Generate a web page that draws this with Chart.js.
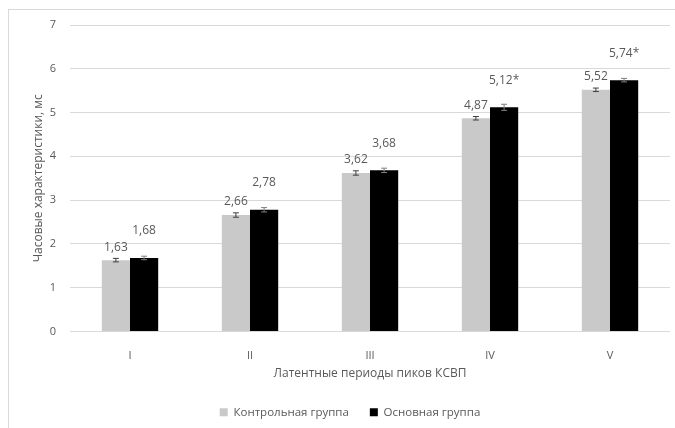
<!DOCTYPE html>
<html>
<head>
<meta charset="utf-8">
<script src="https://cdn.jsdelivr.net/npm/chart.js@4/dist/chart.umd.min.js"></script>
<style>
    body { margin: 0; background: #fff; }
    #frame { position: absolute; left: 8px; top: 9px; width: 700px; height: 430px;
             border-left: 1px solid #d9d9d9; border-top: 1px solid #d9d9d9; }
    #wrap { position: absolute; left: 0; top: 0; width: 675px; height: 428px; }
</style>
</head>
<body>
<div id="frame"></div>
<div id="wrap"><canvas id="chart" width="675" height="428"></canvas></div>
<script>
// Data
const categories = ['I', 'II', 'III', 'IV', 'V'];
const controlValues = [1.63, 2.66, 3.62, 4.87, 5.52];
const mainValues = [1.68, 2.78, 3.68, 5.12, 5.74];
const controlErrors = [0.04, 0.05, 0.05, 0.04, 0.04];
const mainErrors = [0.04, 0.05, 0.05, 0.07, 0.04];
const controlMarks = ['', '', '', '', ''];
const mainMarks = ['', '', '', '*', '*'];
const yTicks = [0, 1, 2, 3, 4, 5, 6, 7];

const textColor = '#595959';
const fontFamily = '"Open Sans", sans-serif';

function fmt(v) {
    return v.toFixed(2).replace('.', ',');
}

// error bars (small I-shaped whiskers)
const errorBars = {
    id: 'errorBars',
    afterDatasetsDraw(chart) {
        const ctx = chart.ctx;
        const y = chart.scales.y;
        chart.data.datasets.forEach(function (ds, i) {
            const meta = chart.getDatasetMeta(i);
            meta.data.forEach(function (bar, j) {
                const v = ds.data[j];
                const e = ds.errors[j];
                const top = y.getPixelForValue(v + e);
                const bot = y.getPixelForValue(v - e);
                ctx.save();
                ctx.strokeStyle = i === 0 ? '#404040' : '#7f7f7f';
                ctx.lineWidth = 1;
                ctx.beginPath();
                ctx.moveTo(bar.x, top);
                ctx.lineTo(bar.x, bot);
                ctx.moveTo(bar.x - 3, top);
                ctx.lineTo(bar.x + 3, top);
                ctx.moveTo(bar.x - 3, bot);
                ctx.lineTo(bar.x + 3, bot);
                ctx.stroke();
                ctx.restore();
            });
        });
    }
};

// value labels above bars
const valueLabels = {
    id: 'valueLabels',
    afterDatasetsDraw(chart) {
        const ctx = chart.ctx;
        ctx.save();
        ctx.font = '12px ' + fontFamily;
        ctx.fillStyle = textColor;
        ctx.textAlign = 'center';
        ctx.textBaseline = 'middle';
        chart.data.datasets.forEach(function (ds, i) {
            const meta = chart.getDatasetMeta(i);
            const lift = i === 0 ? 13 : 27;
            meta.data.forEach(function (bar, j) {
                ctx.fillText(fmt(ds.data[j]) + ds.marks[j], bar.x, bar.y - lift);
            });
        });
        ctx.restore();
    }
};

const ctx = document.getElementById('chart').getContext('2d');
const chart = new Chart(ctx, {
    type: 'bar',
    data: {
        labels: categories,
        datasets: [
            {
                label: 'Контрольная группа',
                data: controlValues,
                errors: controlErrors,
                marks: controlMarks,
                backgroundColor: '#c9c9c9',
                borderColor: '#c9c9c9',
                borderWidth: 0
            },
            {
                label: 'Основная группа',
                data: mainValues,
                errors: mainErrors,
                marks: mainMarks,
                backgroundColor: '#000000',
                borderColor: '#000000',
                borderWidth: 0
            }
        ]
    },
    options: {
        responsive: false,
        animation: false,
        categoryPercentage: 0.47,
        barPercentage: 1,
        layout: { padding: { top: 25, right: 5, left: 30, bottom: 0 } },
        plugins: {
            legend: {
                position: 'bottom',
                labels: {
                    color: textColor,
                    font: { family: fontFamily, size: 11.5 },
                    boxWidth: 8,
                    boxHeight: 8,
                    padding: 21
                }
            },
            tooltip: { enabled: false }
        },
        scales: {
            x: {
                grid: { display: false },
                border: { display: false },
                ticks: {
                    color: textColor,
                    font: { family: fontFamily, size: 11 },
                    padding: 10
                },
                title: {
                    display: true,
                    text: 'Латентные периоды пиков КСВП',
                    color: textColor,
                    font: { family: fontFamily, size: 12 },
                    padding: { top: 0, bottom: 5 }
                },
                afterFit: function (scale) { scale.height = 54; }
            },
            y: {
                min: 0,
                max: 7,
                grid: { color: '#d9d9d9', drawTicks: false },
                border: { display: false },
                afterBuildTicks: function (scale) {
                    scale.ticks = yTicks.map(function (v) { return { value: v }; });
                },
                ticks: {
                    color: textColor,
                    font: { family: fontFamily, size: 11 },
                    padding: 14
                },
                title: {
                    display: true,
                    text: 'Часовые характеристики, мс',
                    color: textColor,
                    font: { family: fontFamily, size: 12 },
                    padding: { top: 1, bottom: 0 }
                },
                afterFit: function (scale) { scale.width = 40; }
            }
        }
    },
    plugins: [errorBars, valueLabels]
});
</script>
</body>
</html>
